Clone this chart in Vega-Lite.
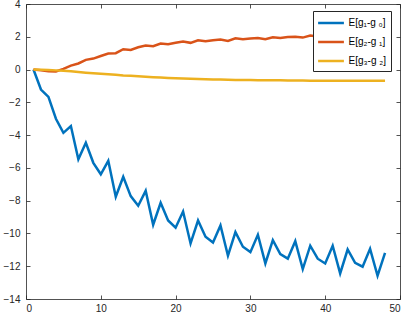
{
  "$schema": "https://vega.github.io/schema/vega-lite/v6.json",
  "width": 374,
  "height": 295,
  "autosize": "none",
  "padding": {"left": 26, "top": 4, "right": 7, "bottom": 18},
  "config": {
    "view": {"stroke": null},
    "font": "Liberation Sans",
    "axis": {
      "grid": false,
      "domainColor": "#262626",
      "domainWidth": 0.8,
      "tickColor": "#262626",
      "tickWidth": 0.8,
      "tickSize": -4,
      "labelColor": "#262626",
      "labelFontSize": 10,
      "labelFont": "Liberation Sans",
      "title": null
    }
  },
  "data": {
    "values": [
      {"x": 1, "s": "b", "v": 0}, {"x": 2, "s": "b", "v": -1.22}, {"x": 3, "s": "b", "v": -1.67}, {"x": 4, "s": "b", "v": -3.0},
      {"x": 5, "s": "b", "v": -3.86}, {"x": 6, "s": "b", "v": -3.45}, {"x": 7, "s": "b", "v": -5.48}, {"x": 8, "s": "b", "v": -4.47},
      {"x": 9, "s": "b", "v": -5.69}, {"x": 10, "s": "b", "v": -6.39}, {"x": 11, "s": "b", "v": -5.57}, {"x": 12, "s": "b", "v": -7.76},
      {"x": 13, "s": "b", "v": -6.54}, {"x": 14, "s": "b", "v": -7.72}, {"x": 15, "s": "b", "v": -8.31}, {"x": 16, "s": "b", "v": -7.4},
      {"x": 17, "s": "b", "v": -9.47}, {"x": 18, "s": "b", "v": -8.13}, {"x": 19, "s": "b", "v": -9.21}, {"x": 20, "s": "b", "v": -9.65},
      {"x": 21, "s": "b", "v": -8.66}, {"x": 22, "s": "b", "v": -10.61}, {"x": 23, "s": "b", "v": -9.21}, {"x": 24, "s": "b", "v": -10.2},
      {"x": 25, "s": "b", "v": -10.55}, {"x": 26, "s": "b", "v": -9.51}, {"x": 27, "s": "b", "v": -11.36}, {"x": 28, "s": "b", "v": -9.92},
      {"x": 29, "s": "b", "v": -10.81}, {"x": 30, "s": "b", "v": -11.14}, {"x": 31, "s": "b", "v": -10.08}, {"x": 32, "s": "b", "v": -11.83},
      {"x": 33, "s": "b", "v": -10.41}, {"x": 34, "s": "b", "v": -11.26}, {"x": 35, "s": "b", "v": -11.54}, {"x": 36, "s": "b", "v": -10.47},
      {"x": 37, "s": "b", "v": -12.18}, {"x": 38, "s": "b", "v": -10.75}, {"x": 39, "s": "b", "v": -11.54}, {"x": 40, "s": "b", "v": -11.83},
      {"x": 41, "s": "b", "v": -10.75}, {"x": 42, "s": "b", "v": -12.44}, {"x": 43, "s": "b", "v": -10.98}, {"x": 44, "s": "b", "v": -11.79},
      {"x": 45, "s": "b", "v": -12.03}, {"x": 46, "s": "b", "v": -10.94}, {"x": 47, "s": "b", "v": -12.58}, {"x": 48, "s": "b", "v": -11.18},

      {"x": 1, "s": "o", "v": 0}, {"x": 2, "s": "o", "v": -0.04}, {"x": 3, "s": "o", "v": -0.1}, {"x": 4, "s": "o", "v": -0.12},
      {"x": 5, "s": "o", "v": 0.04}, {"x": 6, "s": "o", "v": 0.24}, {"x": 7, "s": "o", "v": 0.37}, {"x": 8, "s": "o", "v": 0.59},
      {"x": 9, "s": "o", "v": 0.67}, {"x": 10, "s": "o", "v": 0.83}, {"x": 11, "s": "o", "v": 0.98}, {"x": 12, "s": "o", "v": 1.0},
      {"x": 13, "s": "o", "v": 1.24}, {"x": 14, "s": "o", "v": 1.2}, {"x": 15, "s": "o", "v": 1.36}, {"x": 16, "s": "o", "v": 1.46},
      {"x": 17, "s": "o", "v": 1.42}, {"x": 18, "s": "o", "v": 1.59}, {"x": 19, "s": "o", "v": 1.54}, {"x": 20, "s": "o", "v": 1.63},
      {"x": 21, "s": "o", "v": 1.71}, {"x": 22, "s": "o", "v": 1.63}, {"x": 23, "s": "o", "v": 1.79}, {"x": 24, "s": "o", "v": 1.73},
      {"x": 25, "s": "o", "v": 1.79}, {"x": 26, "s": "o", "v": 1.83}, {"x": 27, "s": "o", "v": 1.75}, {"x": 28, "s": "o", "v": 1.91},
      {"x": 29, "s": "o", "v": 1.85}, {"x": 30, "s": "o", "v": 1.89}, {"x": 31, "s": "o", "v": 1.93}, {"x": 32, "s": "o", "v": 1.85},
      {"x": 33, "s": "o", "v": 1.97}, {"x": 34, "s": "o", "v": 1.93}, {"x": 35, "s": "o", "v": 1.98}, {"x": 36, "s": "o", "v": 2.0},
      {"x": 37, "s": "o", "v": 1.95}, {"x": 38, "s": "o", "v": 2.08}, {"x": 39, "s": "o", "v": 2.02}, {"x": 40, "s": "o", "v": 2.06},
      {"x": 41, "s": "o", "v": 2.1}, {"x": 42, "s": "o", "v": 2.03}, {"x": 43, "s": "o", "v": 2.12}, {"x": 44, "s": "o", "v": 2.08},
      {"x": 45, "s": "o", "v": 2.12}, {"x": 46, "s": "o", "v": 2.14}, {"x": 47, "s": "o", "v": 2.08}, {"x": 48, "s": "o", "v": 2.18},

      {"x": 1, "s": "y", "v": 0}, {"x": 2, "s": "y", "v": -0.01}, {"x": 3, "s": "y", "v": -0.03}, {"x": 4, "s": "y", "v": -0.05},
      {"x": 5, "s": "y", "v": -0.08}, {"x": 6, "s": "y", "v": -0.11}, {"x": 7, "s": "y", "v": -0.15}, {"x": 8, "s": "y", "v": -0.19},
      {"x": 9, "s": "y", "v": -0.22}, {"x": 10, "s": "y", "v": -0.26}, {"x": 11, "s": "y", "v": -0.29}, {"x": 12, "s": "y", "v": -0.32},
      {"x": 13, "s": "y", "v": -0.36}, {"x": 14, "s": "y", "v": -0.38}, {"x": 15, "s": "y", "v": -0.41}, {"x": 16, "s": "y", "v": -0.44},
      {"x": 17, "s": "y", "v": -0.47}, {"x": 18, "s": "y", "v": -0.49}, {"x": 19, "s": "y", "v": -0.51}, {"x": 20, "s": "y", "v": -0.53},
      {"x": 21, "s": "y", "v": -0.55}, {"x": 22, "s": "y", "v": -0.56}, {"x": 23, "s": "y", "v": -0.58}, {"x": 24, "s": "y", "v": -0.59},
      {"x": 25, "s": "y", "v": -0.6}, {"x": 26, "s": "y", "v": -0.61}, {"x": 27, "s": "y", "v": -0.62}, {"x": 28, "s": "y", "v": -0.63},
      {"x": 29, "s": "y", "v": -0.64}, {"x": 30, "s": "y", "v": -0.64}, {"x": 31, "s": "y", "v": -0.65}, {"x": 32, "s": "y", "v": -0.65},
      {"x": 33, "s": "y", "v": -0.66}, {"x": 34, "s": "y", "v": -0.66}, {"x": 35, "s": "y", "v": -0.67}, {"x": 36, "s": "y", "v": -0.67},
      {"x": 37, "s": "y", "v": -0.67}, {"x": 38, "s": "y", "v": -0.68}, {"x": 39, "s": "y", "v": -0.68}, {"x": 40, "s": "y", "v": -0.68},
      {"x": 41, "s": "y", "v": -0.68}, {"x": 42, "s": "y", "v": -0.69}, {"x": 43, "s": "y", "v": -0.69}, {"x": 44, "s": "y", "v": -0.69},
      {"x": 45, "s": "y", "v": -0.69}, {"x": 46, "s": "y", "v": -0.69}, {"x": 47, "s": "y", "v": -0.69}, {"x": 48, "s": "y", "v": -0.69}
    ]
  },
  "layer": [
    {
      "mark": {"type": "line", "strokeWidth": 2.5, "clip": true},
      "encoding": {
        "x": {"field": "x", "type": "quantitative", "scale": {"domain": [0, 50], "nice": false},
              "axis": {"orient": "bottom", "values": [0, 10, 20, 30, 40, 50], "labelPadding": 8}},
        "y": {"field": "v", "type": "quantitative", "scale": {"domain": [-14, 4], "nice": false},
              "axis": {"orient": "left", "values": [-14, -12, -10, -8, -6, -4, -2, 0, 2, 4], "labelPadding": 10}},
        "color": {
          "field": "s", "type": "nominal",
          "scale": {"domain": ["b", "o", "y"], "range": ["#0072BD", "#D95319", "#EDB120"]},
          "legend": {
            "orient": "none", "legendX": 287, "legendY": 7, "title": null,
            "labelExpr": "datum.value == 'b' ? 'E[g₁-g ₀]' : datum.value == 'o' ? 'E[g₂-g ₁]' : 'E[g₃-g ₂]'",
            "symbolType": "M-2.15,0L2.15,0", "symbolSize": 144, "symbolStrokeWidth": 2.5, "symbolOffset": 6,
            "labelOffset": 10, "labelFontSize": 10, "labelColor": "#000000", "labelFont": "Liberation Sans",
            "fillColor": "white", "strokeColor": "#262626", "padding": 4.5, "rowPadding": 6
          }
        }
      }
    },
    {
      "mark": {"type": "line", "opacity": 0},
      "encoding": {
        "x": {"field": "x", "type": "quantitative", "scale": {"domain": [0, 50], "nice": false},
              "axis": {"orient": "top", "values": [0, 10, 20, 30, 40, 50], "labels": false}},
        "y": {"field": "v", "type": "quantitative", "scale": {"domain": [-14, 4], "nice": false},
              "axis": {"orient": "right", "values": [-14, -12, -10, -8, -6, -4, -2, 0, 2, 4], "labels": false}}
      }
    }
  ],
  "resolve": {"axis": {"x": "independent", "y": "independent"}}
}
